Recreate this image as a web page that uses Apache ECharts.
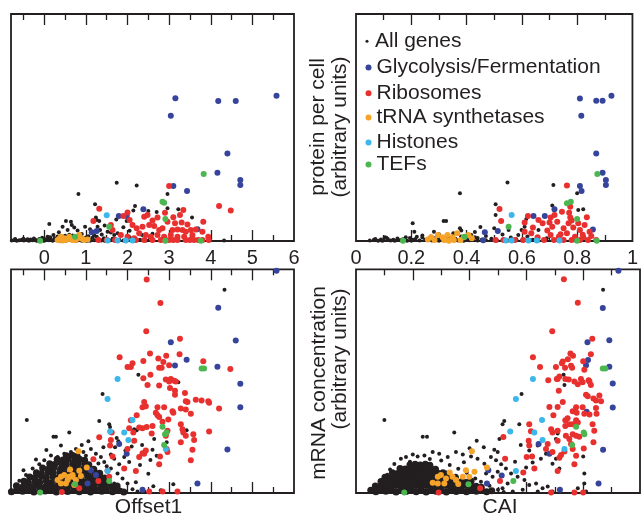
<!DOCTYPE html>
<html>
<head>
<meta charset="utf-8">
<script src="https://cdn.jsdelivr.net/npm/echarts@6/dist/echarts.min.js"></script>
<style>html,body{margin:0;padding:0;background:#fff;}#chart{width:641px;height:519px;}</style>
</head>
<body>
<div id="chart"></div>
<script>
// ---------- axis ticks / labels ----------
const offsetMajor = [0, 1, 2, 3, 4, 5];
const offsetMinor = [-0.5, 0.5, 1.5, 2.5, 3.5, 4.5, 5.5];
const offsetLabels = [0, 1, 2, 3, 4, 5, 6];
const caiMajor = [0.2, 0.4, 0.6, 0.8];
const caiMinor = [0.1, 0.3, 0.5, 0.7, 0.9];
const caiLabels = [0, 0.2, 0.4, 0.6, 0.8, 1];
const groupNames = ['All genes', 'Glycolysis/Fermentation', 'Ribosomes', 'tRNA synthetases', 'Histones', 'TEFs'];

// ---------- top-left: Offset1 vs protein ----------
const tlBlack = [[1.74,25.7],[2.22,24.4],[0.82,20.7],[2.96,20.7],[1.22,16.2],[2.18,15.4],[2.14,13.4],[2.7,12.8],[2.96,14.4],[3.22,14],[1.24,10.4],[1.32,8.8],[1.26,9.3],[1.73,9.5],[1.98,8.8],[0.12,7.5],[0.52,8.8],[0.64,8.5],[0.66,7],[0.44,6.3],[0.72,6],[0.98,6.3],[0.56,4.8],[0.8,4.6],[1.28,6.3],[1.34,4.8],[1.52,4.1],[1.6,3.7],[1.68,2.6],[1.76,3.4],[0.22,2.6],[0.08,1.9],[4.32,0.2],[2.5,13.2],[1.9,6.1],[2.05,4.5],[1.45,6.8],[1.1,5.2],[0.9,3.1],[0.35,3.9],[0.6,2.8],[2.35,2.6],[2.05,1.6],[2.6,3.2],[3.55,10.3],
[-0.78,0.2],[-0.71,0.5],[-0.66,0.1],[-0.6,0.3],[-0.54,0.6],[-0.49,0.2],[-0.43,0.4],[-0.37,0.1],[-0.33,0.7],[-0.28,0.3],[-0.22,0.5],[-0.17,0.1],[-0.12,0.9],[-0.08,0.4],[-0.03,0.2],[0.02,0.6],[0.07,1.1],[0.11,0.3],[0.16,0.7],[0.2,0.1],[0.25,1.2],[0.29,0.4],[0.34,0.8],[0.38,0.2],[0.43,1.4],[0.47,0.5],[0.52,0.1],[0.56,0.9],[0.61,1.6],[0.65,0.3],[0.7,0.7],[0.74,1.3],[0.79,0.2],[0.83,0.9],[0.88,1.8],[0.92,0.4],[0.97,1.1],[1.02,0.2],[1.06,2.1],[1.11,0.6],[1.16,1.4],[1.21,0.3],[1.26,1.9],[1.31,0.8],[1.37,0.2],[1.43,1.2],[1.5,0.5],[1.57,0.2],[1.64,1.0],[1.72,0.3],[1.8,0.6],[1.9,0.2],[2.0,0.4],[2.15,0.2],[2.3,0.5],[2.45,0.2],[2.6,0.4],[2.8,0.2],[3.0,0.3],[-0.7,0.9],[-0.5,1.0],[-0.25,1.1],[-0.05,1.4],[0.14,1.7],[0.32,2.0],[0.5,2.3],[0.68,2.4],[0.86,2.7],[1.0,1.5],[1.2,2.5],[1.38,2.9],[0.4,0.1],[0.9,0.1],[1.1,0.1],[1.45,0.1],[0.6,0.5],[0.3,0.5],[0.0,0.1],[-0.4,0.8],[-0.2,0.2],[0.75,0.1]];
const tlBlue = [[3.15,62.9],[3.04,55.2],[4.18,61.7],[4.6,61.7],[5.58,64],[4.4,38.6],[4.16,30.1],[4.71,26.9],[4.71,24.7],[3.1,24.2],[3.43,22],[2.38,14],[1.79,11],[1.98,11],[3.68,5.2],[1.14,3.8],[1.26,4.4],[1.02,0.4]];
const tlRed = [[3.0,24.2],[1.32,14.2],[1.18,8.8],[4.2,15.4],[4.48,13.4],[1.9,11],[2.9,12.5],[3.34,13.7],[3.26,11.5],[2.4,10.7],[2.48,11.5],[2.72,10.4],[2.96,8.5],[3.14,7.8],[3.3,8.1],[3.44,7.3],[3.82,8.5],[2.12,7.0],[2.22,5.6],[2.36,6.3],[2.52,7.0],[2.64,6.6],[2.76,4.8],[2.84,5.6],[3.08,4.8],[3.2,5.1],[3.32,4.8],[3.4,4.1],[3.52,4.8],[3.64,5.1],[2.28,3.4],[2.44,2.6],[2.56,1.9],[2.72,2.6],[2.88,1.9],[3.04,2.6],[3.2,1.9],[3.36,1.9],[3.56,2.6],[3.8,4.1],[3.94,1.9],[1.6,7.0],[1.64,4.8],[1.84,2.6],[2.0,1.9],[2.16,1.2],[1.3,0.4],[1.5,0.4],[1.7,0.4],[2.2,0.4],[2.4,0.4],[2.6,0.4],[2.8,0.4],[2.9,0.4],[3.0,0.4],[3.1,0.4],[3.2,0.4],[3.4,0.4],[3.5,0.4],[3.6,0.4],[3.7,0.4],[3.8,0.4],[3.95,0.4],[2.0,12.6],[2.6,9.0],[3.1,10.5],[2.05,9.3]];
const tlOrange = [[0.4,1.9],[0.48,1.2],[0.6,1.9],[0.68,0.4],[0.84,2.6],[0.88,1.2],[0.76,0.4],[0.96,0.4],[0.52,0.4],[0.32,0.4],[1.04,0.7],[0.44,0.2],[0.58,0.9],[0.92,0.9],[0.36,1.0]];
const tlCyan = [[1.5,11.3],[1.52,0.2],[1.76,0.2],[1.96,0.2],[2.12,0.2]];
const tlGreen = [[3.83,29.5],[2.84,17.3],[2.88,16.9],[2.91,9.7],[1.56,6.3],[0.74,1.9],[-0.1,0.1],[3.76,0.1],[2.91,0.1]];

// ---------- top-right: CAI vs protein ----------
const trBlack = [[0.548,25.8],[0.376,21],[0.714,24.7],[0.8,21],[0.505,16.2],[0.71,15.6],[0.716,13.7],[0.822,14],[0.804,13.7],[0.205,7.8],[0.317,8.8],[0.326,8.8],[0.376,5.6],[0.381,4.6],[0.505,11.5],[0.616,9.7],[0.61,6.3],[0.599,4.8],[0.587,2.6],[0.552,4.8],[0.211,4.1],[0.282,4.1],[0.352,3.4],[0.417,2.6],[0.104,1.6],[0.45,6.2],[0.43,4.0],[0.47,2.2],[0.5,5.6],[0.53,2.9],[0.56,1.5],[0.62,2.0],[0.66,4.9],[0.69,1.2],[0.24,2.4],[0.3,3.0],[0.38,2.0],[0.44,1.3],[0.49,1.0],[0.58,0.8],[0.64,0.6],[0.72,0.5],[0.79,0.3],
[0.05,0.2],[0.065,0.5],[0.08,0.1],[0.09,0.7],[0.1,0.3],[0.115,0.9],[0.125,0.2],[0.135,0.6],[0.15,1.1],[0.16,0.3],[0.17,0.8],[0.185,0.1],[0.195,1.3],[0.205,0.5],[0.215,0.9],[0.23,0.2],[0.24,1.5],[0.25,0.6],[0.26,1.0],[0.275,0.2],[0.285,1.2],[0.295,0.5],[0.31,0.9],[0.32,0.2],[0.335,1.4],[0.345,0.6],[0.36,1.0],[0.37,0.2],[0.385,0.7],[0.4,1.2],[0.41,0.3],[0.425,0.8],[0.44,0.2],[0.455,0.6],[0.47,0.3],[0.49,0.5],[0.51,0.2],[0.53,0.6],[0.55,0.2],[0.57,0.4],[0.6,0.2],[0.63,0.3],[0.66,0.2],[0.07,0.9],[0.11,1.4],[0.14,0.1],[0.18,1.7],[0.22,1.9],[0.27,2.0],[0.33,2.2],[0.2,0.1],[0.3,0.1],[0.39,0.1],[0.43,1.6],[0.095,0.1]];
const trBlue = [[0.81,62.8],[0.815,55.2],[0.869,61.8],[0.892,61.8],[0.924,64],[0.869,38.6],[0.892,30.1],[0.904,26.9],[0.904,24.7],[0.81,24.2],[0.816,22],[0.718,14],[0.683,11],[0.642,11],[0.857,5.1],[0.466,3.8],[0.513,4.4],[0.46,0.3]];
const trRed = [[0.763,24.5],[0.519,14.1],[0.525,8.8],[0.775,15.1],[0.771,12.5],[0.745,12.9],[0.718,11.5],[0.775,10.4],[0.622,11],[0.704,10.4],[0.61,8.1],[0.64,6.0],[0.675,7.8],[0.692,4.6],[0.71,6.3],[0.728,8.5],[0.751,5.6],[0.769,7.8],[0.786,6.0],[0.81,4.8],[0.827,7.0],[0.845,4.1],[0.804,7.8],[0.704,2.6],[0.734,1.9],[0.763,3.4],[0.792,1.9],[0.822,1.6],[0.851,2.2],[0.657,1.6],[0.634,3.4],[0.61,4.1],[0.68,0.4],[0.716,0.4],[0.751,0.4],[0.78,0.4],[0.81,0.4],[0.839,0.4],[0.869,0.4],[0.605,0.4],[0.575,0.4],[0.534,0.4],[0.505,0.4],[0.655,0.4],[0.74,3.0],[0.78,9.0],[0.835,10.5],[0.66,9.3],[0.7,8.2],[0.82,2.8]];
const trOrange = [[0.272,1.6],[0.296,2.6],[0.313,1.6],[0.331,2.6],[0.349,1.6],[0.366,3.4],[0.39,1.6],[0.407,2.6],[0.419,1.2],[0.284,0.4],[0.319,0.4],[0.354,0.4],[0.378,0.4],[0.336,0.1],[0.26,0.7]];
const trCyan = [[0.563,11.5],[0.542,0.2],[0.624,0.2],[0.654,0.2],[0.736,0.2],[0.563,0.2]];
const trGreen = [[0.873,29.5],[0.763,16.6],[0.777,17.3],[0.8,9.7],[0.552,6.3],[0.393,1.9],[0.17,0.1],[0.871,0.1],[0.8,0.1]];

// ---------- bottom-left: Offset1 vs mRNA ----------
const blBlack = [[-0.42,32.6],[0.22,25.1],[0.28,25.1],[0.6,27.1],[1.32,32.2],[1.4,44.2],[1.56,30.7],[1.58,29.5],[1.74,24.6],[1.78,23.1],[2.16,28.5],[2.22,28.1],[2.64,24.1],[2.6,19.3],[2.7,16.6],[3.42,28.1],[2.5,48.3],[3.22,49.5],[2.94,22.7],[4.33,90.9],[2.26,52.9],
[1.12,19.7],[1.24,17.5],[1.36,16.1],[1.44,13.9],[1.6,17.2],[1.68,15.3],[1.8,12.8],[1.92,16.1],[2.04,13.9],[1.6,10.9],[1.76,8.7],[1.88,6.5],[2.0,4.3],[2.12,1.7],[2.24,0.7],[2.4,0.7],[1.68,4.3],[1.36,3.6],[1.48,2.1],[1.16,1.4],[1.28,7.3],[1.84,1.4],[1.06,23.1],[0.94,18.3],[0.76,19.7],[0.64,18.3],[0.48,17.5],[0.32,16.1],[0.16,16.8],[0.0,14.6],[-0.12,12.8],[-0.28,10.9],[-0.44,8],[-0.6,5.5],[-0.64,3.6],[1.42,20.5],
[2.1,20.8],[2.3,12.5],[2.5,8.6],[2.2,4.8],[2.62,3.0],[2.8,1.2],[3.1,3.9],[1.95,19.0],[1.7,20.5],[0.9,21.5],[1.0,16.6],[0.4,21.2],[0.05,19.2],[-0.2,15.0],[-0.5,10.2],[1.5,12.0],[1.3,13.2],[2.35,21.5],[2.55,14.8]];
const blCore = [[-0.79,0.6],[-0.66,1.4],[-0.52,0.8],[-0.38,1.2],[-0.25,0.5],[-0.11,1.5],[0.02,0.9],[0.15,1.3],[0.29,0.4],[0.42,1.1],[0.56,0.7],[0.71,1.4],[0.84,0.6],[0.96,1.2],[1.11,0.5],[1.23,1.3],[1.38,0.8],[1.49,1.5],[1.64,0.6],[1.78,1.1],[1.91,0.5],
[-0.67,3.2],[-0.52,2.7],[-0.41,3.5],[-0.26,2.9],[-0.14,3.4],[0.01,2.6],[0.13,3.3],[0.28,2.8],[0.4,3.6],[0.55,2.7],[0.66,3.3],[0.82,2.9],[0.93,3.5],[1.09,2.6],[1.2,3.2],[1.36,2.8],[1.47,3.4],[1.63,2.7],[1.75,3.1],
[-0.49,5.2],[-0.38,4.7],[-0.22,5.4],[-0.11,4.8],[0.05,5.3],[0.17,4.6],[0.32,5.5],[0.44,4.9],[0.59,5.2],[0.71,4.7],[0.86,5.4],[0.98,4.8],[1.13,5.3],[1.25,4.9],[1.41,5.1],[1.54,4.6],
[-0.35,7.2],[-0.23,6.8],[-0.07,7.4],[0.05,6.9],[0.21,7.3],[0.33,6.7],[0.49,7.5],[0.61,6.9],[0.77,7.2],[0.89,6.8],[1.05,7.4],[1.17,6.9],[1.33,7.1],[1.45,6.7],
[-0.19,9.1],[-0.07,8.7],[0.09,9.3],[0.21,8.8],[0.37,9.2],[0.49,8.6],[0.65,9.4],[0.77,8.9],[0.93,9.1],[1.05,8.7],[1.21,9.2],[1.33,8.8],
[-0.04,11.2],[0.11,10.8],[0.23,11.3],[0.39,10.7],[0.51,11.4],[0.67,10.9],[0.79,11.2],[0.95,10.8],[1.07,11.1],[1.19,10.6],
[0.13,13.1],[0.25,12.7],[0.41,13.3],[0.53,12.8],[0.69,13.2],[0.81,12.9],[0.97,13.1],[1.07,12.6],
[0.31,15.1],[0.45,14.7],[0.57,15.2],[0.73,14.8],[0.85,15.1],[0.97,14.6],
[0.53,16.6],[0.67,16.9],[0.79,16.4]];
const blBlue = [[5.58,99.4],[4.18,82.8],[4.6,68.2],[3.04,67.4],[3.42,59.6],[3.14,57],[4.16,56.4],[4.71,48.8],[4.71,38.3],[4.4,19.4],[3.68,4.3],[1.8,21.9],[1.98,17.5],[1.12,10.2],[1.24,8],[1.04,4.3],[2.36,1.4]];
const blRed = [[2.46,95.4],[2.79,84.9],[2.45,72.3],[3.26,68.9],[1.81,60.7],[2.54,62.4],[2.38,59],[2.12,58],[2.0,56.3],[2.08,56.3],[2.74,60.1],[2.93,61.3],[2.86,58.6],[3.0,57.1],[2.76,56],[2.82,56],[3.25,62],[3.82,58.9],[4.47,55.4],[2.55,52.9],[2.38,51.3],[2.92,50.7],[3.04,51],[3.12,50.2],
[2.48,48.3],[3.0,49.8],[3.16,49.8],[2.76,48],[3.02,46.9],[3.14,45.7],[3.14,43.9],[3.38,44.7],[3.4,41],[3.44,40.7],[3.64,41.7],[3.78,41.3],[3.94,41],[3.96,40.3],[4.2,37.8],[2.4,40.7],[2.44,38.8],[2.36,38.3],[2.72,38.3],[2.88,38.3],[2.68,35.9],[2.72,34.8],[2.76,34],[3.08,36.6],[3.1,35.9],[3.28,37.8],[3.4,37.3],[3.52,35.4],[2.22,34.8],[2.98,32.9],[3.28,30.7],[3.32,28.5],[3.34,27.1],[3.4,25.6],[3.58,26.3],[3.96,27.5],[2.84,31.8],[2.96,27.8],[2.92,25.6],[2.6,30],[2.46,29.5],[2.36,29],[2.28,29.3],[2.08,32.5],[2.04,29],[2.58,26.6],[2.14,27.1],[2.16,23.4],[1.62,27.1],[1.6,23.7],[1.58,21.2],[1.32,24.9],[2.0,19.7],[2.44,19],[2.36,17.8],[2.28,16.1],[2.4,17.5],[3.28,22.7],[3.56,19.3],[3.6,23.7],[3.52,14.6],[2.94,19.7],[2.96,18.3],[2.78,16.3],[2.76,12.8],[1.64,16.3],[1.18,15.1],[1.92,10.9],[2.2,9.8],[1.3,5.4],[1.52,9.9],[1.56,7.3],[0.84,2.1],[0.42,0.4],[2.52,0.7],[2.84,0.7],[3.2,0.7]];
const blOrange = [[0.82,18.7],[1.02,11.4],[0.4,7.3],[0.48,8],[0.6,7.3],[0.68,8],[0.56,5.8],[0.76,5.8],[0.84,9.9],[0.4,4.3],[0.52,4.3],[0.68,7.3],[0.32,5.8],[0.88,7.6],[0.62,10.5],[0.72,3.6]];
const blCyan = [[1.76,51],[1.52,42],[2.12,32.6],[1.58,27.5],[1.92,27.1],[2.02,23.7],[2.92,19.7],[1.52,9.8]];
const blGreen = [[3.78,55.7],[3.84,55.7],[2.84,29.6],[2.9,26.3],[2.94,27.1],[2.88,21.5],[1.56,5.4],[0.74,3.9],[-0.1,0.2]];

// ---------- bottom-right: CAI vs mRNA ----------
const brBlack = [[0.1,32.6],[0.235,25.1],[0.25,25.1],[0.346,27.1],[0.425,23.4],[0.583,44.2],[0.522,32.2],[0.516,30.7],[0.575,30.7],[0.505,24.1],[0.516,24.9],[0.487,19.3],[0.499,18.3],[0.704,24.1],[0.71,26.6],[0.8,16.3],[0.734,48.3],[0.87,90.9],[0.731,52.9],
[0.158,15.3],[0.176,16.1],[0.2,17.2],[0.217,16.3],[0.241,16.8],[0.27,18.3],[0.293,17.5],[0.323,16.1],[0.352,18.3],[0.376,17.2],[0.405,16.3],[0.428,15.3],[0.452,13.1],[0.475,16.1],[0.493,14.6],[0.511,12.8],[0.528,10.9],[0.546,8.7],[0.569,7.3],[0.593,5.8],[0.61,3.6],[0.634,4.3],[0.657,2.1],[0.675,2.9],[0.64,0.7],[0.692,0.7],[0.552,0.7],[0.587,1.4],[0.516,2.1],[0.534,4.3],[0.481,7.3],[0.458,8.7],[0.499,9.5],[0.599,11.4],[0.622,13.6],[0.651,15.3],[0.669,17.5],[0.692,13.1],[0.716,10.9],[0.61,19],[0.64,21.2],[0.704,15.3],[0.804,8.7],[0.804,4.3],[0.781,2.1],[0.81,0.7],
[0.12,10.5],[0.135,13.0],[0.11,8.2],[0.085,5.5],[0.07,3.5],[0.33,12.5],[0.36,10.8],[0.39,9.0],[0.42,6.5],[0.44,5.0],[0.47,3.2],[0.5,1.5],[0.52,0.5],[0.38,13.8],[0.3,14.5],[0.26,15.2],[0.19,14.0],[0.56,14.0],[0.58,21.5],[0.45,20.5],[0.4,20.0]];
const brCore = [[0.052,1.2],[0.07,0.6],[0.088,1.4],[0.105,0.8],[0.123,1.3],[0.141,0.5],[0.158,1.1],[0.176,0.7],[0.194,1.4],[0.212,0.6],[0.229,1.2],[0.247,0.5],[0.265,1.3],[0.282,0.8],[0.3,1.1],[0.318,0.5],[0.336,1.4],[0.353,0.7],[0.371,1.2],[0.389,0.6],[0.406,1.3],[0.424,0.8],[0.442,1.1],[0.46,0.6],[0.478,1.0],
[0.068,3.1],[0.086,2.7],[0.104,3.3],[0.121,2.8],[0.139,3.4],[0.157,2.9],[0.175,3.2],[0.192,2.6],[0.21,3.3],[0.228,2.8],[0.246,3.4],[0.263,2.7],[0.281,3.2],[0.299,2.9],[0.317,3.3],[0.334,2.6],[0.352,3.1],[0.37,2.8],[0.388,3.4],[0.405,2.7],[0.423,3.0],[0.441,2.6],
[0.088,5.1],[0.106,4.7],[0.124,5.3],[0.142,4.8],[0.16,5.4],[0.178,4.9],[0.195,5.2],[0.213,4.6],[0.231,5.3],[0.249,4.8],[0.266,5.4],[0.284,4.7],[0.302,5.2],[0.32,4.9],[0.337,5.3],[0.355,4.6],[0.373,5.1],[0.391,4.8],[0.405,5.2],
[0.102,7.0],[0.12,6.7],[0.138,7.3],[0.156,6.8],[0.174,7.4],[0.191,6.9],[0.209,7.2],[0.227,6.6],[0.245,7.3],[0.262,6.8],[0.28,7.4],[0.298,6.7],[0.316,7.1],[0.333,6.8],[0.35,7.0],
[0.128,9.1],[0.146,8.7],[0.164,9.3],[0.182,8.8],[0.2,9.4],[0.218,8.9],[0.236,9.2],[0.253,8.6],[0.27,9.3],[0.288,8.8],[0.306,9.0],[0.318,8.5],
[0.155,11.0],[0.173,10.7],[0.191,11.3],[0.209,10.8],[0.227,11.4],[0.245,10.9],[0.262,11.1],[0.28,10.6],
[0.19,12.6],[0.208,12.9],[0.226,12.5],[0.244,12.8],[0.26,12.4]];
const brBlue = [[0.924,99.4],[0.869,82.7],[0.892,68.3],[0.815,67.4],[0.817,59.5],[0.81,57.1],[0.892,56.4],[0.904,48.9],[0.904,38.2],[0.87,19.3],[0.854,4.3],[0.812,36.3],[0.643,21.9],[0.681,17.5],[0.513,7.8],[0.466,10.2],[0.461,4.3],[0.718,1.4]];
const brRed = [[0.732,95.6],[0.781,85],[0.691,72.3],[0.832,68.9],[0.623,60.7],[0.755,62.4],[0.728,58.8],[0.725,58],[0.746,59.8],[0.764,61.3],[0.827,62],[0.648,56.3],[0.704,56.3],[0.736,56],[0.757,56.9],[0.761,56],[0.8,58.9],[0.804,55.1],[0.716,52.1],[0.707,51],[0.677,50.4],[0.737,51],[0.749,50.7],[0.792,51],[0.819,50.4],
[0.71,51],[0.769,49.8],[0.781,48.6],[0.798,49.5],[0.822,49.8],[0.827,48.3],[0.714,45.7],[0.81,43.9],[0.816,43.2],[0.836,42.2],[0.845,41.3],[0.863,41],[0.857,43.6],[0.728,40.7],[0.681,38.4],[0.71,38.4],[0.775,38.3],[0.798,38.3],[0.763,36.6],[0.777,35.9],[0.804,35.4],[0.822,35.1],[0.845,38],[0.847,35.4],[0.695,34.8],[0.745,33.4],[0.737,32.5],[0.751,30.7],[0.737,30],[0.763,30.7],[0.775,32.5],[0.781,31.5],[0.833,30.7],[0.839,27.8],[0.836,22.7],[0.61,30.7],[0.616,27.6],[0.608,23.4],[0.61,21.2],[0.601,16.1],[0.687,28.5],[0.692,27.1],[0.71,27.8],[0.71,23.4],[0.739,25.6],[0.751,24.1],[0.763,26.3],[0.775,25.6],[0.786,25.1],[0.757,21.9],[0.763,19.7],[0.734,18.5],[0.722,17],[0.716,15.8],[0.669,19.7],[0.675,21.9],[0.692,18.3],[0.802,19.9],[0.775,16.6],[0.62,16.3],[0.628,10.9],[0.71,9.8],[0.769,12.8],[0.519,25],[0.525,15.3],[0.589,9.2],[0.507,5.4],[0.437,2.1],[0.291,0.2],[0.687,0.2],[0.769,0.2],[0.8,0.2]];
const brOrange = [[0.408,18.7],[0.461,11.4],[0.288,7.3],[0.299,8],[0.317,6.5],[0.34,7.3],[0.352,5.8],[0.376,7.3],[0.387,10.2],[0.417,9.5],[0.288,4.3],[0.311,4.3],[0.27,4.6],[0.399,7.3],[0.33,9.2],[0.36,4.0]];
const brCyan = [[0.623,51],[0.563,42],[0.655,32.6],[0.543,27.5],[0.628,27.1],[0.657,23.7],[0.734,19.7],[0.563,9.8]];
const brGreen = [[0.869,55.7],[0.878,55.7],[0.775,29.6],[0.802,27.1],[0.804,26.3],[0.761,21.5],[0.554,5.4],[0.396,3.9],[0.17,0.2]];

// ---------- build chart ----------
const FONT = "'Liberation Sans', Arial, Helvetica, sans-serif";
const INK = '#231f20';
const colors = { black: INK, blue: '#36449b', red: '#e8302f', orange: '#f6a429', cyan: '#3bb7ea', green: '#4cb650' };

const panels = [
  { grid: { left: 11, top: 14, width: 283, height: 227 }, kind: 'offset', labels: true,
    groups: [tlBlack, null, tlBlue, tlRed, tlOrange, tlCyan, tlGreen] },
  { grid: { left: 356, top: 14, width: 284, height: 227 }, kind: 'cai', labels: true,
    groups: [trBlack, null, trBlue, trRed, trOrange, trCyan, trGreen] },
  { grid: { left: 11, top: 269.3, width: 283, height: 227.2 }, kind: 'offset', labels: false, name: 'Offset1',
    groups: [blBlack, blCore, blBlue, blRed, blOrange, blCyan, blGreen] },
  { grid: { left: 356, top: 269.3, width: 284, height: 227.2 }, kind: 'cai', labels: false, name: 'CAI',
    groups: [brBlack, brCore, brBlue, brRed, brOrange, brCyan, brGreen] }
];

const grid = [], xAxis = [], yAxis = [], series = [];
panels.forEach((p, gi) => {
  grid.push(Object.assign({ show: true, borderColor: INK, borderWidth: 1.8, backgroundColor: 'transparent' }, p.grid));
  const isOff = p.kind === 'offset';
  const min = isOff ? -0.8 : 0, max = isOff ? 6 : 1;
  const major = isOff ? offsetMajor : caiMajor;
  const minor = isOff ? offsetMinor : caiMinor;
  const labels = isOff ? offsetLabels : caiLabels;
  ['bottom', 'top'].forEach(pos => {
    [['major', major, 11], ['minor', minor, 6]].forEach(([kind, vals, len]) => {
      const ax = {
        type: 'value', gridIndex: gi, position: pos, min, max, offset: 0,
        axisLine: { show: false },
        splitLine: { show: false },
        axisTick: { show: true, inside: true, length: len, customValues: vals, lineStyle: { color: INK, width: 1.3 } },
        axisLabel: { show: false }
      };
      if (pos === 'bottom' && kind === 'major') {
        if (p.labels) {
          ax.axisLabel = { show: true, customValues: labels, margin: 7, fontSize: 20, fontFamily: FONT, color: INK,
            formatter: v => String(v) };
        }
        if (p.name) {
          ax.name = p.name;
          ax.nameLocation = 'middle';
          ax.nameGap = 4;
          ax.nameTextStyle = { fontSize: 21, fontFamily: FONT, color: INK, verticalAlign: 'top',
            padding: p.name === 'Offset1' ? [0, 8, 0, 0] : [0, 0, 0, 4] };
        }
      }
      xAxis.push(ax);
    });
  });
  yAxis.push({ type: 'value', gridIndex: gi, min: 0, max: 100, show: false });
  const xi = xAxis.length - 4;
  const styles = [
    ['All genes', colors.black, 4],
    ['All genes', colors.black, 7],
    ['Glycolysis/Fermentation', colors.blue, 6],
    ['Ribosomes', colors.red, 6],
    ['tRNA synthetases', colors.orange, 6],
    ['Histones', colors.cyan, 6],
    ['TEFs', colors.green, 6]
  ];
  p.groups.forEach((data, k) => {
    if (!data) return;
    series.push({
      type: 'scatter', name: styles[k][0], xAxisIndex: xi, yAxisIndex: gi,
      data, symbol: 'circle', symbolSize: styles[k][2], clip: false,
      itemStyle: { color: styles[k][1], opacity: 1, borderWidth: 0 },
      emphasis: { disabled: true }, z: 2 + k
    });
  });
});

const legendCenters = [41.3, 67.5, 93.2, 117.5, 142.5, 164.5];
const legend = groupNames.map((n, i) => ({
  data: [n], orient: 'vertical', left: 365.5, top: legendCenters[i] - 11, padding: 0,
  icon: 'circle', itemWidth: 6, itemHeight: i === 0 ? 3 : 6,
  textStyle: { fontSize: 21, lineHeight: 22, fontFamily: FONT, color: INK }
}));

function vtext(x, y, t) {
  return { type: 'text', x, y, rotation: Math.PI / 2, z: 10,
    style: { text: t, font: '21px ' + FONT, fill: INK, textAlign: 'center', textVerticalAlign: 'middle', align: 'center', verticalAlign: 'middle' } };
}

const chart = echarts.init(document.getElementById('chart'), null, { renderer: 'canvas' });
chart.setOption({
  animation: false,
  backgroundColor: '#fff',
  grid, xAxis, yAxis, series, legend,
  graphic: [
    vtext(318, 127, 'protein per cell'),
    vtext(340, 127, '(arbitrary units)'),
    vtext(319, 383, 'mRNA concentration'),
    vtext(340, 359, '(arbitrary units)')
  ]
});
</script>
</body>
</html>
